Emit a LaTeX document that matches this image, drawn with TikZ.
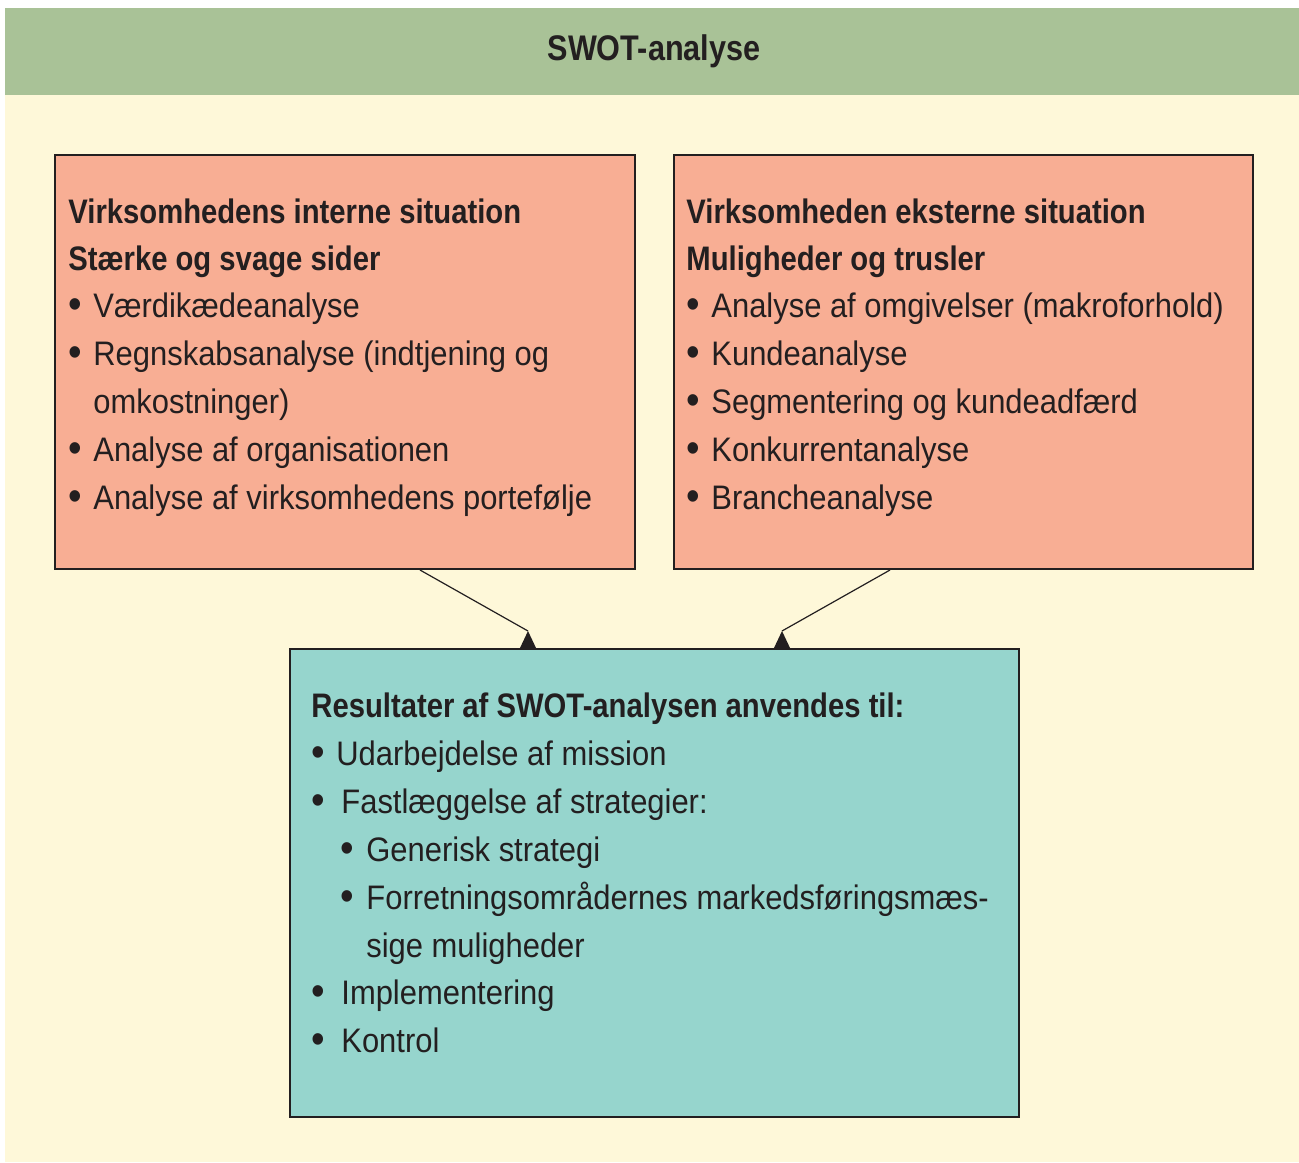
\documentclass[tikz,border=0pt]{standalone}
\usepackage{fontspec}
\setmainfont{Liberation Sans}[FakeStretch=0.91, BoldFeatures={FakeStretch=0.86}]
\definecolor{hdrgreen}{HTML}{A9C297}
\definecolor{cream}{HTML}{FEF8D9}
\definecolor{salmon}{HTML}{F8AE94}
\definecolor{tealbox}{HTML}{96D5CD}
\definecolor{ink}{HTML}{231F20}
\newcommand{\blt}[1]{\makebox[#1][l]{\raisebox{-0.6pt}{\scalebox{1.25}{•}}}}
\begin{document}
\begin{tikzpicture}[x=0.5pt,y=-0.5pt,
  box/.style={draw=ink, line width=1pt, inner sep=0pt},
  txt/.style={anchor=base west, inner sep=0pt, text=ink, font=\fontsize{17pt}{24pt}\selectfont},
  hd/.style={txt, font=\fontsize{17pt}{24pt}\selectfont\bfseries},
  conn/.style={draw=ink, line width=0.6pt},
  tip/.style={fill=ink}]
\useasboundingbox (0,0) rectangle (1299,1162);
\fill[white] (0,0) rectangle (1299,1162);
\fill[cream] (5,95) rectangle (1299,1162);
\node[fill=hdrgreen, inner sep=0pt, minimum width=647pt, minimum height=43.5pt, anchor=north west] (hdr) at (5,8) {};
\node[inner sep=0pt, text=ink, font=\fontsize{17.8pt}{21pt}\selectfont\bfseries] (title) at (654,51) {SWOT-analyse};

% boxes
\node[box, fill=salmon, minimum width=290pt, minimum height=207pt] (lbox) at (345,362) {};
\node[box, fill=salmon, minimum width=289.5pt, minimum height=207pt] (rbox) at (963.5,362) {};
\node[box, fill=tealbox, minimum width=364.5pt, minimum height=234pt] (bbox) at (654.5,883) {};

% left box text
\node[hd] (l1) at (68,223) {Virksomhedens interne situation};
\node[hd] (l2) at (68,270) {Stærke og svage sider};
\node[txt] (l3) at (68,317) {\blt{12.5pt}Værdikædeanalyse};
\node[txt] (l4) at (68,365) {\blt{12.5pt}Regnskabsanalyse (indtjening og};
\node[txt] (l5) at (93,413) {omkostninger)};
\node[txt] (l6) at (68,461) {\blt{12.5pt}Analyse af organisationen};
\node[txt] (l7) at (68,509) {\blt{12.5pt}Analyse af virksomhedens portefølje};

% right box text
\node[hd] (r1) at (686,223) {Virksomheden eksterne situation};
\node[hd] (r2) at (686,270) {Muligheder og trusler};
\node[txt] (r3) at (686,317) {\blt{12.5pt}Analyse af omgivelser (makroforhold)};
\node[txt] (r4) at (686,365) {\blt{12.5pt}Kundeanalyse};
\node[txt] (r5) at (686,413) {\blt{12.5pt}Segmentering og kundeadfærd};
\node[txt] (r6) at (686,461) {\blt{12.5pt}Konkurrentanalyse};
\node[txt] (r7) at (686,509) {\blt{12.5pt}Brancheanalyse};

% bottom box text
\node[hd] (b1) at (311,717) {Resultater af SWOT-analysen anvendes til:};
\node[txt] (b2) at (311,765) {\blt{12.5pt}Udarbejdelse af mission};
\node[txt] (b3) at (311,813) {\blt{15pt}Fastlæggelse af strategier:};
\node[txt] (b4) at (340,861) {\blt{13pt}Generisk strategi};
\node[txt] (b5) at (340,909) {\blt{13pt}Forretningsområdernes markedsføringsmæs-};
\node[txt] (b6) at (366,957) {sige muligheder};
\node[txt] (b7) at (311,1004) {\blt{15pt}Implementering};
\node[txt] (b8) at (311,1052) {\blt{15pt}Kontrol};

% connectors
\coordinate (t1) at (528,631);
\coordinate (t2) at (782,631);
\draw[conn] ([xshift=37.5pt]lbox.south) -- (t1);
\draw[conn] ([xshift=-36.75pt]rbox.south) -- (t2);
\fill[tip] (t1) -- (519.5,649) -- (536.5,649) -- cycle;
\fill[tip] (t2) -- (773.5,649) -- (790.5,649) -- cycle;
\end{tikzpicture}
\end{document}
